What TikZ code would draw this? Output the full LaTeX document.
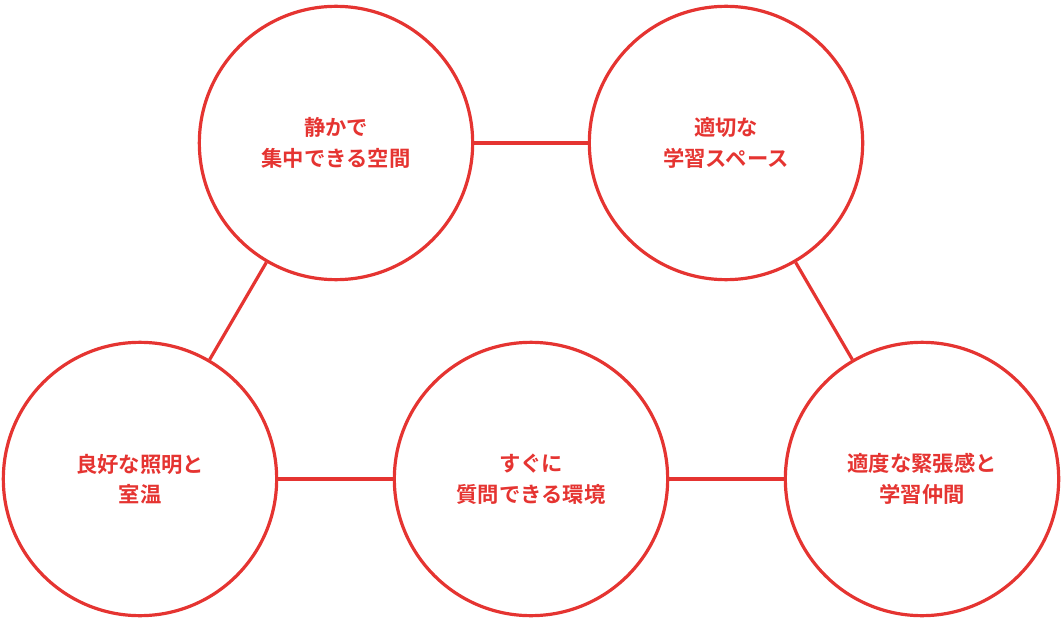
\documentclass[tikz,border=0pt]{standalone}
\usepackage{fontspec}
\newfontfamily\cjk{Noto Sans CJK JP}[BoldFont={* Bold}]
\definecolor{cred}{HTML}{E53431}
\begin{document}
\begin{tikzpicture}[x=0.75pt,y=-0.75pt,
  ring/.style={circle,draw=cred,line width=2.4pt,minimum size=205pt,inner sep=0pt,align=center,text=cred,font=\cjk\bfseries\fontsize{16}{23}\selectfont},
  link/.style={draw=cred,line width=2.4pt}]
\useasboundingbox (0,0) rectangle (1062,623);
\node[ring] (a) at (336,143) {静かで\\集中できる空間};
\node[ring] (b) at (726,143) {適切な\\学習スペース};
\node[ring] (c) at (140,479) {良好な照明と\\室温};
\node[ring] (d) at (531,479) {すぐに\\質問できる環境};
\node[ring] (e) at (922,479) {適度な緊張感と\\学習仲間};
\draw[link] (a) -- (b);
\draw[link] (a) -- (c);
\draw[link] (b) -- (e);
\draw[link] (c) -- (d);
\draw[link] (d) -- (e);
\end{tikzpicture}
\end{document}
